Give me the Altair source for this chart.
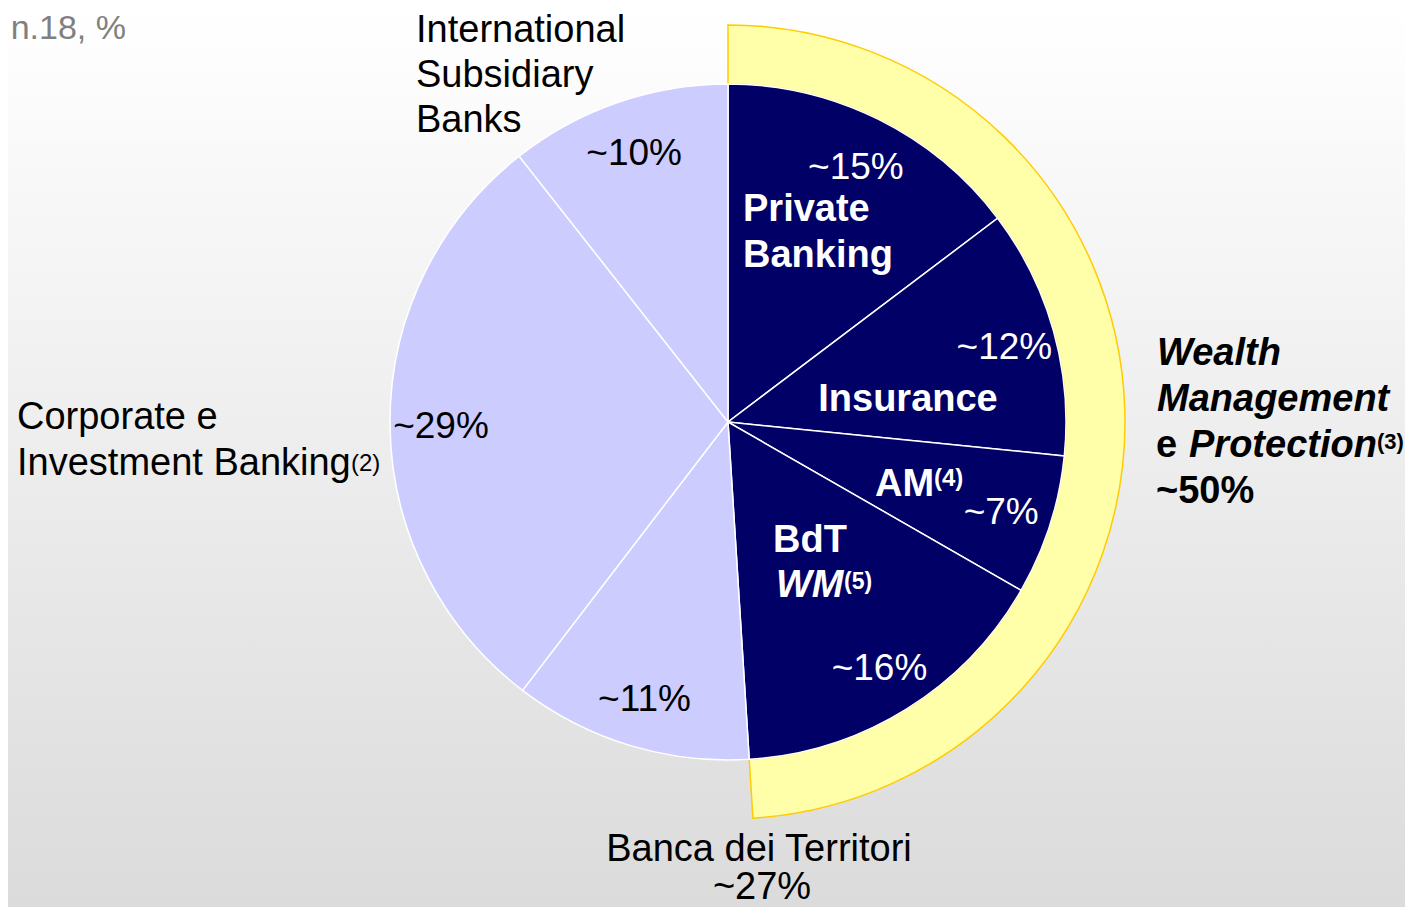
import altair as alt
import pandas as pd

# ---- data ----
segments = ["Private Banking", "Insurance", "AM", "BdT WM",
            "Banca dei Territori", "Corporate e Investment Banking",
            "International Subsidiary Banks"]
shares = [14.7, 11.9, 6.7, 15.7, 11.4, 29.0, 10.6]
pct_labels = ["~15%", "~12%", "~7%", "~16%", "~11%", "~29%", "~10%"]
groups = ["WMP", "WMP", "WMP", "WMP", "Other", "Other", "Other"]

title_text = "n.18, %"
isb_lines = ["International", "Subsidiary", "Banks"]
cib_lines = ["Corporate e", "Investment Banking"]
bdt_lines = ["Banca dei Territori", "~27%"]
wmp_lines = ["Wealth", "Management", "e", "Protection", "~50%"]
pb_lines = ["Private", "Banking"]

W, H = 1397, 899
CX, CY = 728 - 8, 422 - 8
R_PIE, R_RING = 338, 397
FONT = "Liberation Sans"
FS = 38

df = pd.DataFrame({"segment": segments, "share": shares, "label": pct_labels,
                   "group": groups, "order": list(range(len(segments)))})
one = pd.DataFrame({"a": [0]})

bg = alt.Chart(one).mark_rect(
    color=alt.Gradient(gradient="linear", x1=0, x2=0, y1=0, y2=1,
                       stops=[alt.GradientStop(color="#ffffff", offset=0),
                              alt.GradientStop(color="#dbdbdb", offset=1)])
).encode(x=alt.value(0), x2=alt.value(W), y=alt.value(0), y2=alt.value(H))

base = alt.Chart(df)

ring = base.transform_aggregate(
    total="sum(share)", order="min(order)", groupby=["group"]
).mark_arc(innerRadius=R_PIE, outerRadius=R_RING, strokeWidth=1.5).encode(
    theta=alt.Theta("total:Q", stack=True),
    order=alt.Order("order:Q"),
    fill=alt.condition("datum.group == 'WMP'", alt.value("#ffffaa"), alt.value("transparent")),
    stroke=alt.condition("datum.group == 'WMP'", alt.value("#ffcc00"), alt.value("transparent")),
    x=alt.value(CX), y=alt.value(CY),
)

pie = base.mark_arc(outerRadius=R_PIE, stroke="white", strokeWidth=1.5).encode(
    theta=alt.Theta("share:Q", stack=True),
    order=alt.Order("order:Q"),
    color=alt.Color("group:N", scale=alt.Scale(domain=["WMP", "Other"],
                                               range=["#000066", "#ccccff"]), legend=None),
    x=alt.value(CX), y=alt.value(CY),
)

pct = base.mark_text(radius=287, fontSize=37, font=FONT, align="center",
                     baseline="middle", dy=3).encode(
    theta=alt.Theta("share:Q", stack=True),
    order=alt.Order("order:Q"),
    text="label:N",
    color=alt.condition("datum.group == 'WMP'", alt.value("white"), alt.value("black")),
    x=alt.value(CX), y=alt.value(CY),
)


def txt(s, x, y, size=FS, weight="normal", style="normal", color="black", align="left"):
    return alt.Chart(one).mark_text(
        font=FONT, fontSize=size, fontWeight=weight, fontStyle=style,
        color=color, align=align, baseline="alphabetic"
    ).encode(x=alt.value(x - 8), y=alt.value(y - 8), text=alt.value(s))


texts = [
    txt(title_text, 126, 39, size=34, color="#808080", align="right"),
    txt(isb_lines[0], 416, 42), txt(isb_lines[1], 416, 87), txt(isb_lines[2], 416, 132),
    txt(cib_lines[0], 17, 429), txt(cib_lines[1], 17, 475), txt("(2)", 351, 471, size=24),
    txt(bdt_lines[0], 759, 861, align="center"), txt(bdt_lines[1], 762, 899, align="center"),
    txt(wmp_lines[0], 1157, 365, weight="bold", style="italic"),
    txt(wmp_lines[1], 1157, 411, weight="bold", style="italic"),
    txt(wmp_lines[2], 1156, 457, weight="bold"),
    txt(wmp_lines[3], 1189, 457, weight="bold", style="italic"),
    txt("(3)", 1377, 449, size=22, weight="bold"),
    txt(wmp_lines[4], 1156, 503, weight="bold"),
    txt(pb_lines[0], 743, 221, weight="bold", color="white"),
    txt(pb_lines[1], 743, 267, weight="bold", color="white"),
    txt("Insurance", 908, 411, weight="bold", color="white", align="center"),
    txt("AM", 875, 496, weight="bold", color="white"),
    txt("(4)", 934, 486, size=24, weight="bold", color="white"),
    txt("BdT", 773, 552, weight="bold", color="white"),
    txt("WM", 776, 597, weight="bold", style="italic", color="white"),
    txt("(5)", 844, 589, size=23, weight="bold", color="white"),
]

chart = alt.layer(bg, ring, pie, pct, *texts).properties(
    width=W, height=H, padding=0, autosize="none"
).configure_view(strokeWidth=0)

chart.save("out.html", embed_options={"renderer": "svg", "actions": False})
